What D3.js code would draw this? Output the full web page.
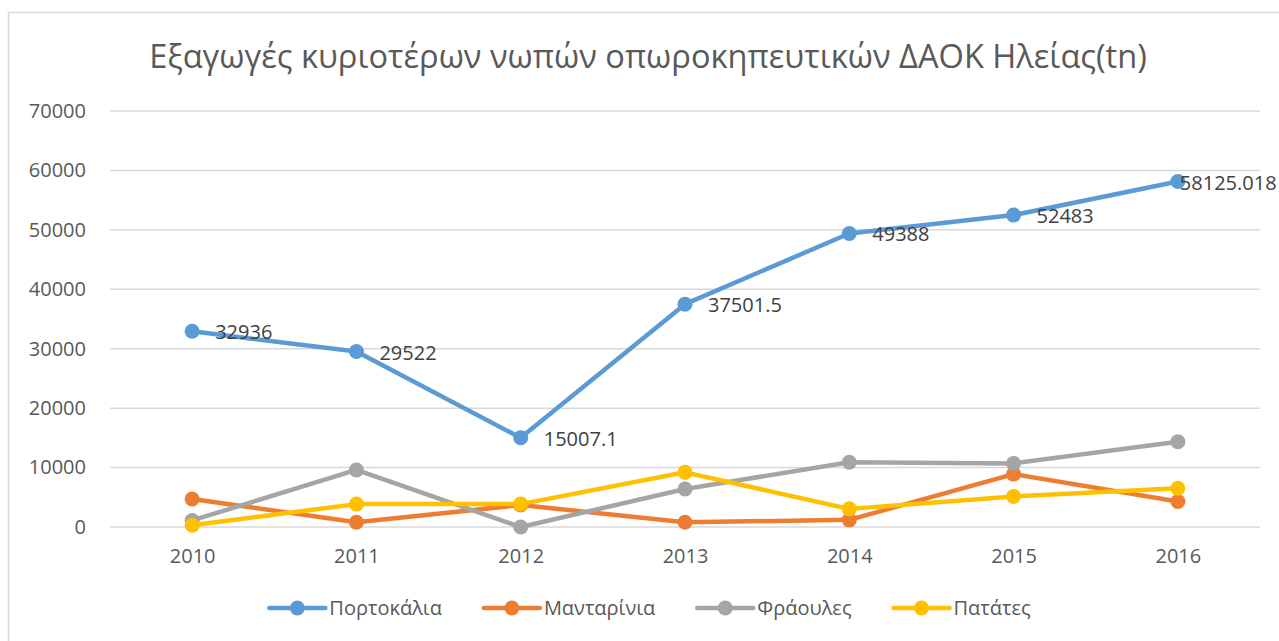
<!DOCTYPE html>
<html>
<head>
<meta charset="utf-8">
<script src="https://cdn.jsdelivr.net/npm/d3@7"></script>
<style>
  html, body { margin: 0; padding: 0; background: #fff; }
  svg { display: block; font-family: "Open Sans", sans-serif; }
</style>
</head>
<body>
<svg id="chart" width="1279" height="641"></svg>
<script>
// data
const years = ['2010', '2011', '2012', '2013', '2014', '2015', '2016'];
const portokalia = [32936, 29522, 15007.1, 37501.5, 49388, 52483, 58125.018];
const mandarinia = [4700, 800, 3700, 800, 1200, 8900, 4300];
const fraoules = [1100, 9600, 0, 6400, 10900, 10700, 14350];
const patates = [300, 3850, 3850, 9200, 3050, 5150, 6500];
const portokaliaLabels = ['32936', '29522', '15007.1', '37501.5', '49388', '52483', '58125.018'];
const yTicks = [0, 10000, 20000, 30000, 40000, 50000, 60000, 70000];

const seriesList = [
  { name: 'Πορτοκάλια', values: portokalia, color: '#5B9BD5' },
  { name: 'Μανταρίνια', values: mandarinia, color: '#ED7D31' },
  { name: 'Φράουλες', values: fraoules, color: '#A5A5A5' },
  { name: 'Πατάτες', values: patates, color: '#FFC000' }
];

const svg = d3.select('#chart');
const W = 1279, H = 641;
const plot = { left: 110, right: 1260, top: 111, bottom: 527 };

// chart frame
svg.append('rect')
  .attr('x', 8.5).attr('y', 12.5)
  .attr('width', W + 20).attr('height', H + 20)
  .attr('fill', '#fff')
  .attr('stroke', '#d9d9d9')
  .attr('stroke-width', 1.5);

// title
svg.append('text')
  .attr('x', 648).attr('y', 68)
  .attr('text-anchor', 'middle')
  .style('font-size', '32.6px')
  .style('fill', '#595959')
  .text('Εξαγωγές κυριοτέρων νωπών οπωροκηπευτικών ΔΑΟΚ Ηλείας(tn)');

const x = d3.scalePoint()
  .domain(years)
  .range([plot.left, plot.right])
  .padding(0.5);

const y = d3.scaleLinear()
  .domain([0, 70000])
  .range([plot.bottom, plot.top]);

// gridlines
svg.append('g')
  .selectAll('line')
  .data(yTicks)
  .enter().append('line')
  .attr('x1', plot.left).attr('x2', plot.right)
  .attr('y1', d => y(d)).attr('y2', d => y(d))
  .attr('stroke', '#d9d9d9')
  .attr('stroke-width', 1.5);

// y axis labels
const yAxis = d3.axisLeft(y).tickValues(yTicks).tickSize(0).tickPadding(0).tickFormat(d => `${d}`);
svg.append('g')
  .attr('transform', 'translate(86,0)')
  .call(yAxis)
  .call(g => g.select('.domain').remove())
  .selectAll('text')
    .style('font-size', '20px')
    .style('font-family', '"Open Sans", sans-serif')
    .style('fill', '#595959');

// x axis labels
const xAxis = d3.axisBottom(x).tickSize(0).tickPadding(0);
svg.append('g')
  .attr('transform', 'translate(0,549)')
  .call(xAxis)
  .call(g => g.select('.domain').remove())
  .selectAll('text')
    .style('font-size', '20px')
    .style('font-family', '"Open Sans", sans-serif')
    .style('fill', '#595959');

// lines + markers
const line = d3.line()
  .x((d, i) => x(years[i]))
  .y(d => y(d));

seriesList.forEach(s => {
  const g = svg.append('g');
  g.append('path')
    .datum(s.values)
    .attr('d', line)
    .attr('fill', 'none')
    .attr('stroke', s.color)
    .attr('stroke-width', 4.5)
    .attr('stroke-linejoin', 'round');
  g.selectAll('circle')
    .data(s.values)
    .enter().append('circle')
    .attr('cx', (d, i) => x(years[i]))
    .attr('cy', d => y(d))
    .attr('r', 7.5)
    .attr('fill', s.color);
});

// data labels for oranges (right of point; last one nudged left to fit)
svg.append('g')
  .selectAll('text')
  .data(portokalia)
  .enter().append('text')
  .attr('x', (d, i) => x(years[i]) + (i === years.length - 1 ? 2 : 23))
  .attr('y', d => y(d) + 1)
  .attr('dy', '0.35em')
  .style('font-size', '20px')
  .style('fill', '#404040')
  .text((d, i) => portokaliaLabels[i]);

// legend: items laid out by text width, centred
const legend = svg.append('g').attr('transform', 'translate(0,608)');
const items = seriesList.map(s => {
  const item = legend.append('g');
  item.append('line')
    .attr('x1', 0).attr('x2', 56)
    .attr('stroke', s.color)
    .attr('stroke-width', 4.5)
    .attr('stroke-linecap', 'round');
  item.append('circle')
    .attr('cx', 28).attr('r', 7.5)
    .attr('fill', s.color);
  const t = item.append('text')
    .attr('x', 60)
    .attr('dy', '0.35em')
    .style('font-size', '20px')
    .style('fill', '#595959')
    .text(s.name);
  return { item, w: 60 + t.node().getComputedTextLength() };
});
const gap = 42;
const total = d3.sum(items, d => d.w) + gap * (items.length - 1);
let cx = 650 - total / 2;
items.forEach(d => {
  d.item.attr('transform', `translate(${cx},0)`);
  cx += d.w + gap;
});
</script>
</body>
</html>
